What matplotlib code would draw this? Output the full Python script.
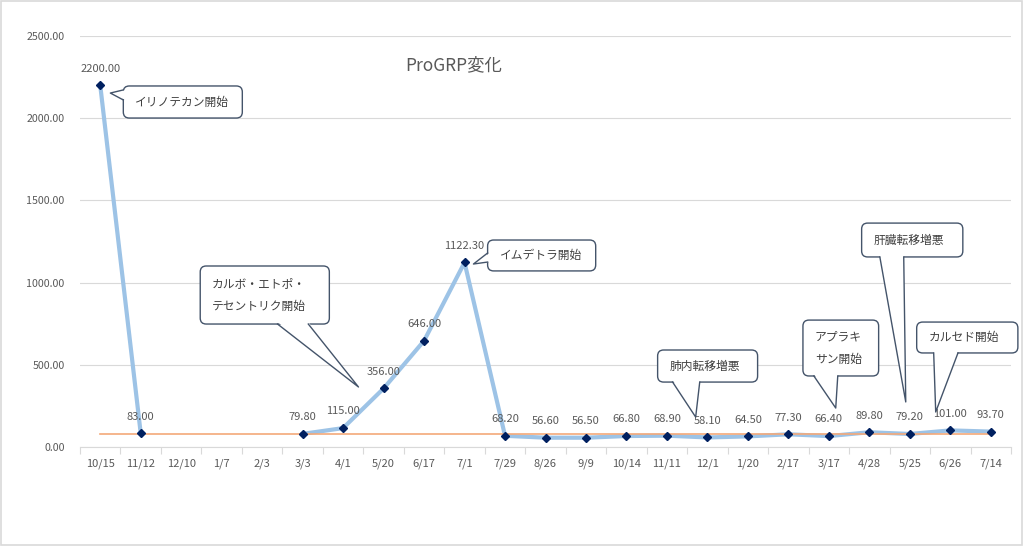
import matplotlib
matplotlib.use('Agg')
import matplotlib.pyplot as plt
import numpy as np
from matplotlib.patches import FancyBboxPatch, Polygon, Rectangle
from matplotlib.lines import Line2D
from matplotlib.transforms import IdentityTransform

plt.rcParams['font.family'] = ['Noto Sans CJK JP', 'DejaVu Sans']

## データ
dates = ['10/15', '11/12', '12/10', '1/7', '2/3', '3/3', '4/1', '5/20', '6/17', '7/1',
         '7/29', '8/26', '9/9', '10/14', '11/11', '12/1', '1/20', '2/17', '3/17', '4/28',
         '5/25', '6/26', '7/14']
progrp = [2200.0, 83.0, np.nan, np.nan, np.nan, 79.8, 115.0, 356.0, 646.0, 1122.3,
          68.2, 56.6, 56.5, 66.8, 68.9, 58.1, 64.5, 77.3, 66.4, 89.8,
          79.2, 101.0, 93.7]
ref_value = 81.0
title = 'ProGRP変化'

## 吹き出し (box: x0, x1, y_top, y_bottom / tip: x, y / base: side, a, b)
callout_texts = ['イリノテカン開始', 'カルボ・エトポ・\nテセントリク開始', 'イムデトラ開始',
                 '肺内転移増悪', 'アプラキ\nサン開始', '肝臓転移増悪', 'カルセド開始']
callout_boxes = [(0.57, 3.51, 2196, 2001), (2.47, 5.66, 1101, 748), (9.57, 12.24, 1259, 1071),
                 (13.77, 16.24, 590, 395), (17.36, 19.23, 772, 432), (18.81, 21.31, 1362, 1156),
                 (20.17, 22.67, 760, 572)]
callout_tips = [(0.25, 2153), (6.38, 365), (9.22, 1113), (14.71, 182), (18.17, 237),
                (19.90, 274), (20.64, 213)]
callout_bases = [('left', 2172, 2111), ('bottom', 4.38, 5.14), ('left', 1180, 1125),
                 ('bottom', 14.14, 14.81), ('bottom', 17.63, 18.22), ('bottom', 19.26, 19.85),
                 ('bottom', 20.59, 21.19)]

text_gray = '#595959'
grid_gray = '#D9D9D9'
edge_col = '#44546A'

fig = plt.figure(figsize=(10.24, 5.46), dpi=100)
ax = fig.add_axes([80 / 1024, 1 - 447 / 546, 931 / 1024, 411 / 546])

x = np.arange(len(dates))
ax.plot(x, progrp, color='#9DC3E6', lw=3.0, solid_joinstyle='round', zorder=3)
ax.plot(x, [ref_value] * len(x), color='#F4A979', lw=1.2, zorder=4)
ax.plot(x, progrp, 'D', ms=4.0, color='#002060', zorder=5)

for i, v in enumerate(progrp):
	if np.isnan(v):
		continue
	ax.annotate('%.2f' % v, (i, v), xytext=(0, 12), textcoords='offset points',
	            ha='center', va='center', fontsize=8, color=text_gray, zorder=6)

ax.set_xlim(-0.5, len(dates) - 0.5)
ax.set_ylim(0, 2500)
ax.set_yticks(np.arange(0, 2501, 500))
ax.set_yticklabels(['%.2f' % t for t in np.arange(0, 2501, 500)])
ax.set_xticks(x)
ax.set_xticklabels(dates)
ax.set_xticks(np.arange(-0.5, len(dates)), minor=True)
ax.tick_params(axis='x', which='major', length=0, pad=8, labelsize=8, labelcolor=text_gray)
ax.tick_params(axis='x', which='minor', length=5, color=grid_gray, width=0.8)
ax.tick_params(axis='y', length=0, pad=11, labelsize=7.7, labelcolor=text_gray)
ax.grid(axis='y', color=grid_gray, lw=0.8)
ax.set_axisbelow(True)
for s in ['left', 'right', 'top']:
	ax.spines[s].set_visible(False)
ax.spines['bottom'].set_color(grid_gray)
ax.spines['bottom'].set_linewidth(0.8)

fig.text(0.4434, 0.881, title, ha='center', va='center', fontsize=12.5, color=text_gray)

fig.add_artist(Rectangle((0.0005, 0.001), 0.998, 0.997, transform=fig.transFigure,
                         fill=False, ec=grid_gray, lw=1.2))

ident = IdentityTransform()
for txt, box, tip, base in zip(callout_texts, callout_boxes, callout_tips, callout_bases):
	(l, t) = ax.transData.transform((box[0], box[2]))
	(r, b) = ax.transData.transform((box[1], box[3]))
	fig.add_artist(FancyBboxPatch((l, b), r - l, t - b, boxstyle='round,pad=0,rounding_size=6',
	                              transform=ident, fc='white', ec=edge_col, lw=1.0, zorder=6))
	tx, ty = ax.transData.transform(tip)
	if base[0] == 'left':
		_, p0 = ax.transData.transform((0, base[1]))
		_, p1 = ax.transData.transform((0, base[2]))
		a, c = (l, p0), (l, p1)
		fa, fc = (l + 2, p0), (l + 2, p1)
	else:
		p0, _ = ax.transData.transform((base[1], 0))
		p1, _ = ax.transData.transform((base[2], 0))
		a, c = (p0, b), (p1, b)
		fa, fc = (p0, b + 2), (p1, b + 2)
	fig.add_artist(Polygon([fa, (tx, ty), fc], closed=True, transform=ident,
	                       fc='white', ec='none', zorder=7))
	fig.add_artist(Line2D([a[0], tx, c[0]], [a[1], ty, c[1]], transform=ident,
	                      color=edge_col, lw=1.0, zorder=8))
	fig.text(l + 12, (t + b) / 2, txt, transform=ident, ha='left', va='center',
	         fontsize=8.5, color='#404040', linespacing=1.9, zorder=9)

fig.savefig('out.png', dpi=100)
